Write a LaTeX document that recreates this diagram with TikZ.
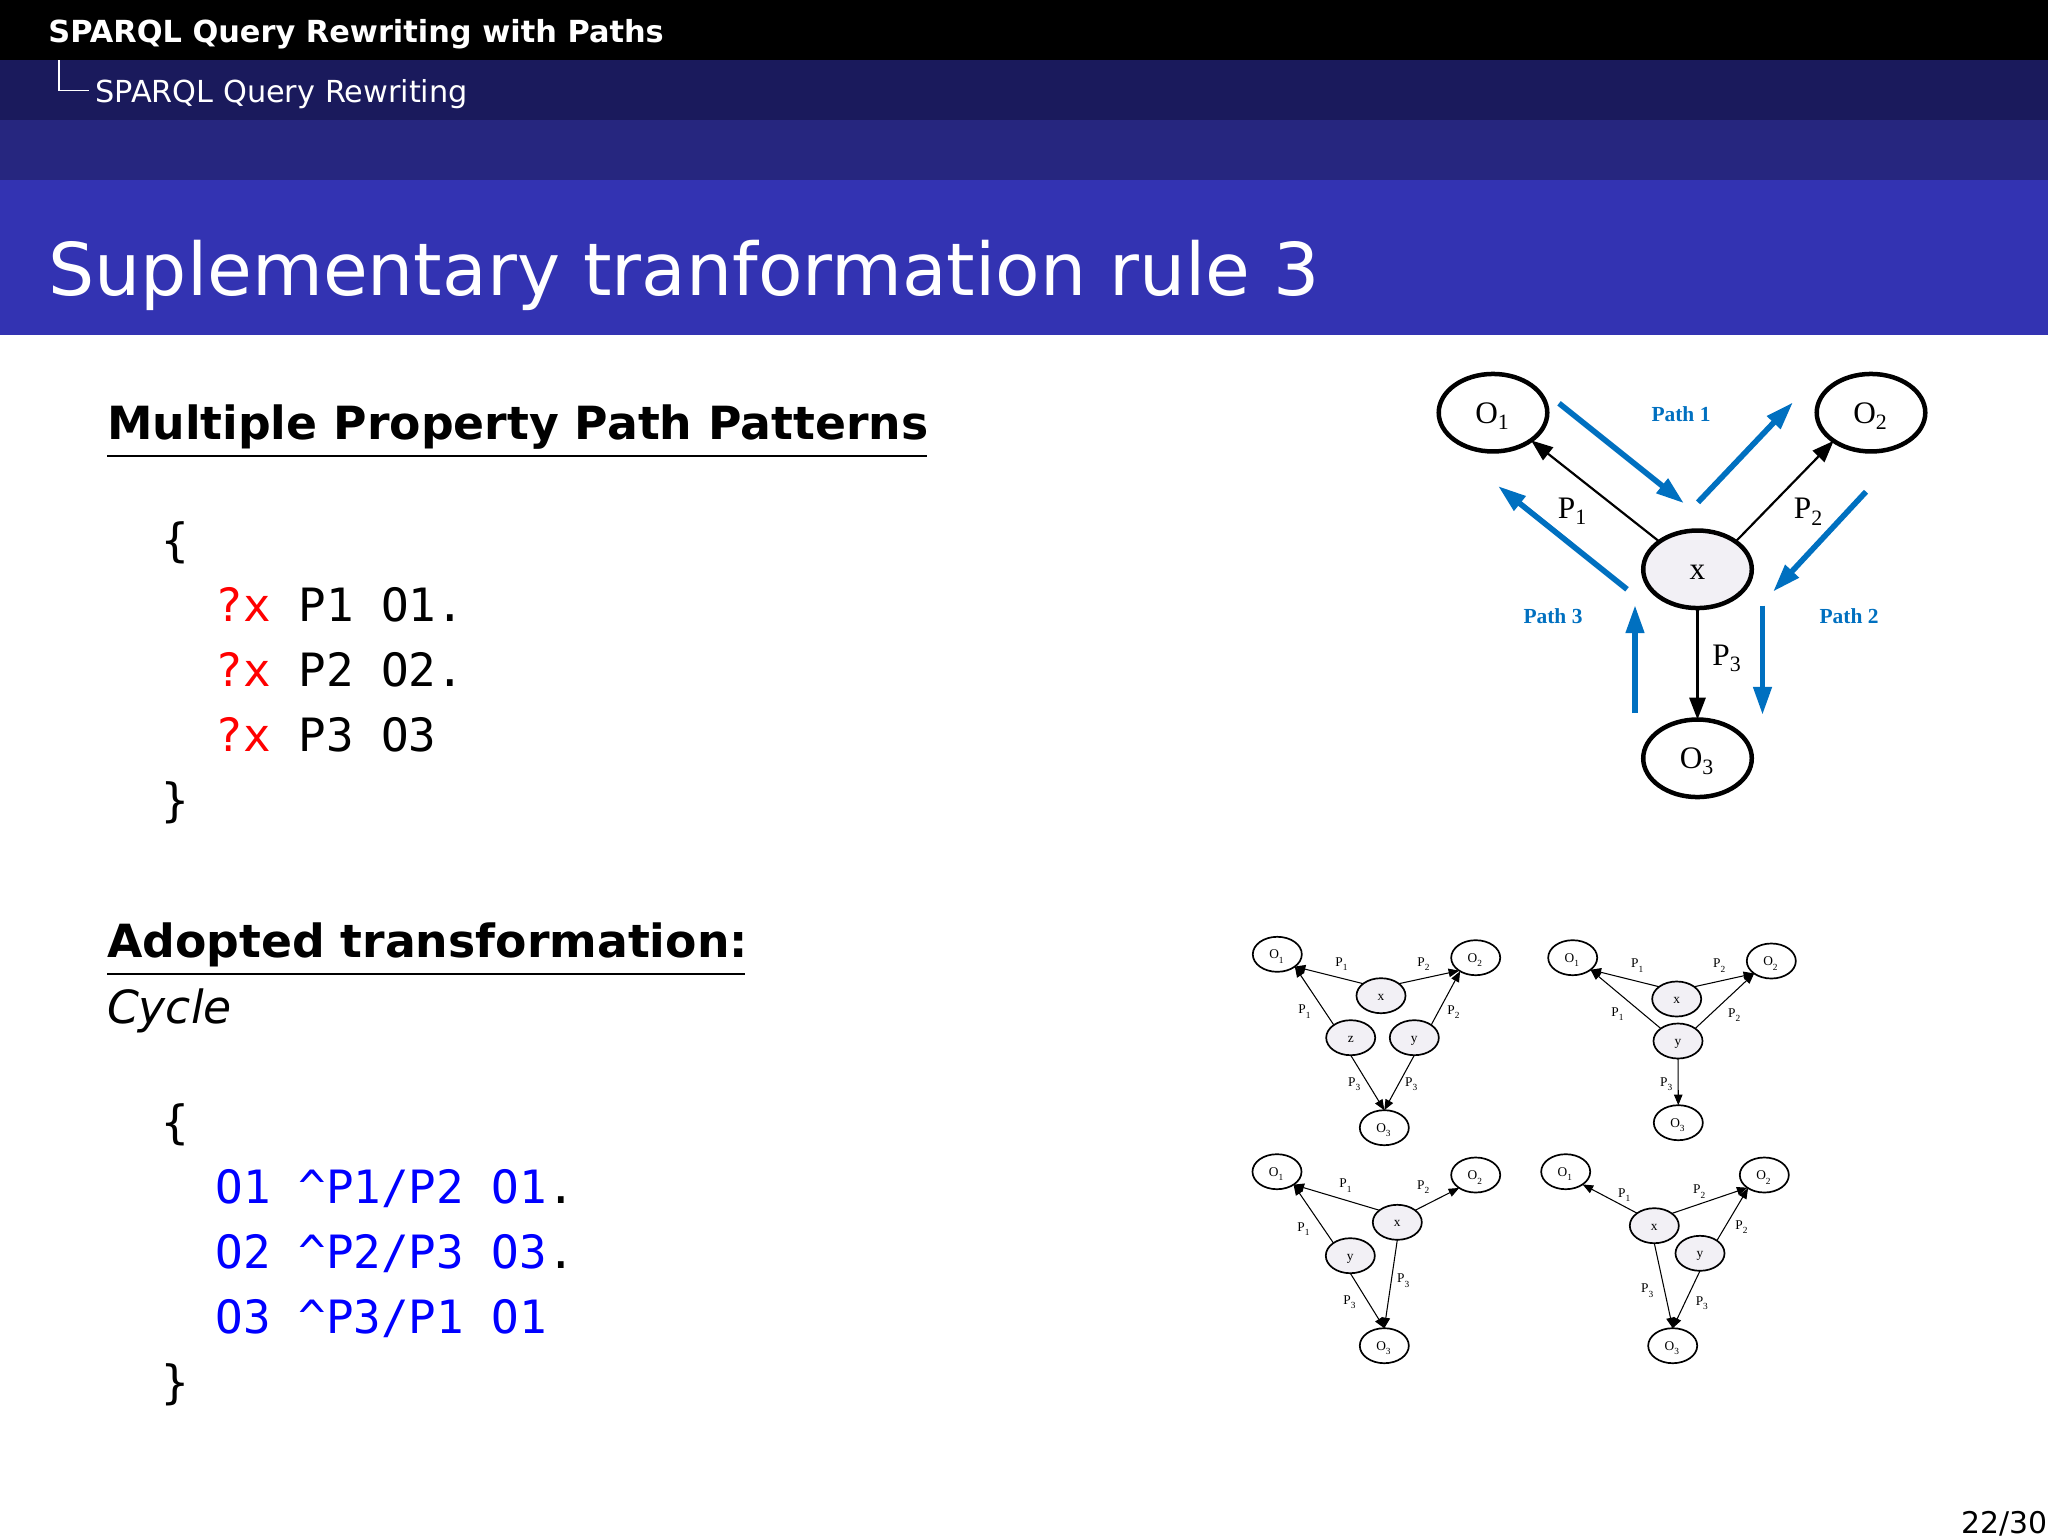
\documentclass[tikz,border=0pt]{standalone}
\usepackage{fontspec}
\setmainfont{DejaVu Sans}
\setmonofont{DejaVu Sans Mono}
\newfontfamily\figfont{Liberation Serif}
\usetikzlibrary{arrows.meta,shapes.geometric}
\definecolor{bandA}{HTML}{1A1A5C}
\definecolor{bandB}{HTML}{26267F}
\definecolor{bandC}{HTML}{3333B2}
\definecolor{pathblue}{HTML}{0070C0}
\definecolor{xfill}{HTML}{F2F0F5}
\newcommand{\fs}[1]{\fontsize{#1}{#1}\selectfont}
\newcommand{\sbs}[1]{\raisebox{-0.08em}{\textsubscript{#1}}}
\newcommand{\lowr}[1]{\raisebox{-0.33em}[0pt][0pt]{#1}}
\tikzset{
  every node/.style={inner sep=0pt,outer sep=0pt},
  txt/.style={anchor=base west},
  headbold/.style={txt,text=white,font=\fs{8.64}\bfseries},
  headsub/.style={txt,text=white,font=\fs{8.62}},
  slidetitle/.style={txt,text=white,font=\fs{20.7}},
  heading/.style={txt,font=\fs{13.0}\bfseries},
  oblq/.style={txt,font=\fs{13.0}\itshape},
  code/.style={txt,font=\fs{13.05}\ttfamily},
  pagenum/.style={anchor=base east,font=\fs{8.5}},
  bigoval/.style={ellipse,draw=black,line width=1.28pt,minimum width=1.085cm,minimum height=0.775cm,font=\figfont\fs{8.9}},
  bigfill/.style={bigoval,fill=xfill},
  smalloval/.style={ellipse,draw=black,line width=0.48pt,minimum width=0.49cm,minimum height=0.35cm,font=\figfont\fs{3.8}},
  smallfill/.style={smalloval,fill=xfill},
  biglbl/.style={font=\figfont\fs{8.9}},
  smalllbl/.style={font=\figfont\fs{3.8}},
  pathlbl/.style={text=pathblue,font=\figfont\bfseries\fs{6.1}},
  bigedge/.style={line width=0.62pt,-{Triangle[length=6.2pt,width=4.6pt]}},
  smalledge/.style={line width=0.3pt,-{Triangle[length=3pt,width=2.4pt]}},
  bluearrow/.style={draw=pathblue,line width=1.6pt,-{Triangle[length=8pt,width=5pt]}},
}
\begin{document}
\begin{tikzpicture}[x=0.01cm,y=-0.01cm]
\useasboundingbox (0,0) rectangle (2048,1536);
\fill[white] (0,0) rectangle (2048,1536);
\fill[black] (0,0) rectangle (2048,60);
\fill[bandA] (0,60) rectangle (2048,120);
\fill[bandB] (0,120) rectangle (2048,180);
\fill[bandC] (0,180) rectangle (2048,335);
\draw[white,line width=0.3pt] (59,60) -- (59,90.3) -- (89,90.3);
\node[headbold] (hA) at (48.5,42.5) {SPARQL Query Rewriting with Paths};
\node[headsub] (hB) at (95.5,102) {SPARQL Query Rewriting};
\node[slidetitle] (hC) at (48.5,295) {Suplementary tranformation rule 3};

\node[heading] (t1) at (107,439) {Multiple Property Path Patterns};
\draw[line width=0.55pt] (107,456) -- (927,456);
\node[code] (c1) at (161,556) {\{};
\node[code] (c2) at (215.5,621) {\textcolor{red}{?x} P1 O1.};
\node[code] (c3) at (215.5,686) {\textcolor{red}{?x} P2 O2.};
\node[code] (c4) at (215.5,751) {\textcolor{red}{?x} P3 O3};
\node[code] (c5) at (161,816) {\}};

\node[heading] (t2) at (107,957) {Adopted transformation:};
\draw[line width=0.55pt] (107,974) -- (745,974);
\node[oblq] (t3) at (107,1023) {Cycle};
\node[code] (d1) at (161,1138.4) {\{};
\node[code] (d2) at (215.5,1203.4) {\textcolor{blue}{O1 \textasciicircum P1/P2 O1}.};
\node[code] (d3) at (215.5,1268.4) {\textcolor{blue}{O2 \textasciicircum P2/P3 O3}.};
\node[code] (d4) at (215.5,1333.4) {\textcolor{blue}{O3 \textasciicircum P3/P1 O1}};
\node[code] (d5) at (161,1398.4) {\}};
\node[pagenum] (pg) at (2048,1533) {22/30};

% main diagram
\node[bigoval] (O1) at (1493,412.7) {\lowr{O\sbs{1}}};
\node[bigoval] (O2) at (1871,412.7) {\lowr{O\sbs{2}}};
\node[bigfill] (X) at (1697.5,569.3) {\lowr{x}};
\node[bigoval] (O3) at (1697.5,758.3) {\lowr{O\sbs{3}}};
\draw[bigedge] (X.144) -- (O1.324);
\draw[bigedge] (X.36) -- (O2.217);
\draw[bigedge] (X.south) -- (O3.north);
\node[biglbl] (lP1) at (1573,511.7) {P\sbs{1}};
\node[biglbl] (lP2) at (1809,511.7) {P\sbs{2}};
\node[biglbl] (lP3) at (1727.5,658) {P\sbs{3}};
\node[pathlbl] (pa) at (1681,414) {Path 1};
\node[pathlbl] (pb) at (1849,616) {Path 2};
\node[pathlbl] (pc) at (1553,616) {Path 3};
\coordinate (b1s) at (1559,403.3); \coordinate (b1e) at (1684,503.3);
\coordinate (b2s) at (1698,502.3); \coordinate (b2e) at (1793,402.3);
\coordinate (b3s) at (1866,491.7); \coordinate (b3e) at (1773,591.7);
\coordinate (b4s) at (1762.5,605.7); \coordinate (b4e) at (1762.5,715);
\coordinate (b5s) at (1635,713); \coordinate (b5e) at (1635,605);
\coordinate (b6s) at (1627,589.3); \coordinate (b6e) at (1498,486);
\draw[bluearrow] (b1s) -- (b1e);
\draw[bluearrow] (b2s) -- (b2e);
\draw[bluearrow] (b3s) -- (b3e);
\draw[bluearrow] (b4s) -- (b4e);
\draw[bluearrow] (b5s) -- (b5e);
\draw[bluearrow] (b6s) -- (b6e);

% small diagram A
\node[smalloval] (aO1) at (1277.3,954.3) {\lowr{O\sbs{1}}};
\node[smalloval] (aO2) at (1475.7,957.7) {\lowr{O\sbs{2}}};
\node[smallfill] (ax) at (1381,995.7) {\lowr{x}};
\node[smallfill] (az) at (1350.7,1037.7) {\lowr{z}};
\node[smallfill] (ay) at (1414.3,1037.7) {\lowr{y}};
\node[smalloval] (aO3) at (1384.3,1127.7) {\lowr{O\sbs{3}}};
\draw[smalledge] (ax.146) -- (aO1.325);
\draw[smalledge] (ax.34) -- (aO2.218);
\draw[smalledge] (az.143) -- (aO1.325);
\draw[smalledge] (ay.37) -- (aO2.221);
\draw[smalledge] (az.south) -- (aO3.north);
\draw[smalledge] (ay.south) -- (aO3.north);
\node[smalllbl] (al1) at (1342.3,964.3) {P\sbs{1}};
\node[smalllbl] (al2) at (1424.3,964.3) {P\sbs{2}};
\node[smalllbl] (al3) at (1305.3,1011.7) {P\sbs{1}};
\node[smalllbl] (al4) at (1454.3,1012.3) {P\sbs{2}};
\node[smalllbl] (al5) at (1355,1084.3) {P\sbs{3}};
\node[smalllbl] (al6) at (1412,1084.3) {P\sbs{3}};

% small diagram B
\node[smalloval] (bO1) at (1572.7,957.7) {\lowr{O\sbs{1}}};
\node[smalloval] (bO2) at (1771.3,961) {\lowr{O\sbs{2}}};
\node[smallfill] (bx) at (1676.7,999) {\lowr{x}};
\node[smallfill] (by) at (1678,1041) {\lowr{y}};
\node[smalloval] (bO3) at (1678.3,1122.7) {\lowr{O\sbs{3}}};
\draw[smalledge] (bx.145) -- (bO1.326);
\draw[smalledge] (bx.35) -- (bO2.216);
\draw[smalledge] (by.144) -- (bO1.326);
\draw[smalledge] (by.36) -- (bO2.216);
\draw[smalledge] (by.south) -- (bO3.north);
\node[smalllbl] (bl1) at (1638,965.7) {P\sbs{1}};
\node[smalllbl] (bl2) at (1720,965.7) {P\sbs{2}};
\node[smalllbl] (bl3) at (1618.3,1014) {P\sbs{1}};
\node[smalllbl] (bl4) at (1735,1015) {P\sbs{2}};
\node[smalllbl] (bl5) at (1667,1084) {P\sbs{3}};

% small diagram C
\node[smalloval] (cO1) at (1277,1171.7) {\lowr{O\sbs{1}}};
\node[smalloval] (cO2) at (1475.7,1175) {\lowr{O\sbs{2}}};
\node[smallfill] (cx) at (1397.3,1222.3) {\lowr{x}};
\node[smallfill] (cy) at (1350.3,1255.7) {\lowr{y}};
\node[smalloval] (cO3) at (1384.3,1345.7) {\lowr{O\sbs{3}}};
\draw[smalledge] (cx.146) -- (cO1.322);
\draw[smalledge] (cx.34) -- (cO2.218);
\draw[smalledge] (cx.south) -- (cO3.north);
\draw[smalledge] (cy.143) -- (cO1.322);
\draw[smalledge] (cy.south) -- (cO3.north);
\node[smalllbl] (cl1) at (1346.3,1185.7) {P\sbs{1}};
\node[smalllbl] (cl2) at (1424,1187.3) {P\sbs{2}};
\node[smalllbl] (cl3) at (1304.3,1229.3) {P\sbs{1}};
\node[smalllbl] (cl4) at (1404,1280.7) {P\sbs{3}};
\node[smalllbl] (cl5) at (1350.3,1302.3) {P\sbs{3}};

% small diagram D
\node[smalloval] (dO1) at (1565.7,1171.7) {\lowr{O\sbs{1}}};
\node[smalloval] (dO2) at (1764.3,1175) {\lowr{O\sbs{2}}};
\node[smallfill] (dx) at (1654.3,1225.7) {\lowr{x}};
\node[smallfill] (dy) at (1700,1253.3) {\lowr{y}};
\node[smalloval] (dO3) at (1672.7,1345.7) {\lowr{O\sbs{3}}};
\draw[smalledge] (dx.144) -- (dO1.323);
\draw[smalledge] (dx.35) -- (dO2.217);
\draw[smalledge] (dx.south) -- (dO3.north);
\draw[smalledge] (dy.37) -- (dO2.219);
\draw[smalledge] (dy.south) -- (dO3.north);
\node[smalllbl] (dl1) at (1625,1195) {P\sbs{1}};
\node[smalllbl] (dl2) at (1700,1191.7) {P\sbs{2}};
\node[smalllbl] (dl3) at (1742.3,1227.3) {P\sbs{2}};
\node[smalllbl] (dl4) at (1648,1290.7) {P\sbs{3}};
\node[smalllbl] (dl5) at (1702.7,1303.3) {P\sbs{3}};
\end{tikzpicture}
\end{document}
